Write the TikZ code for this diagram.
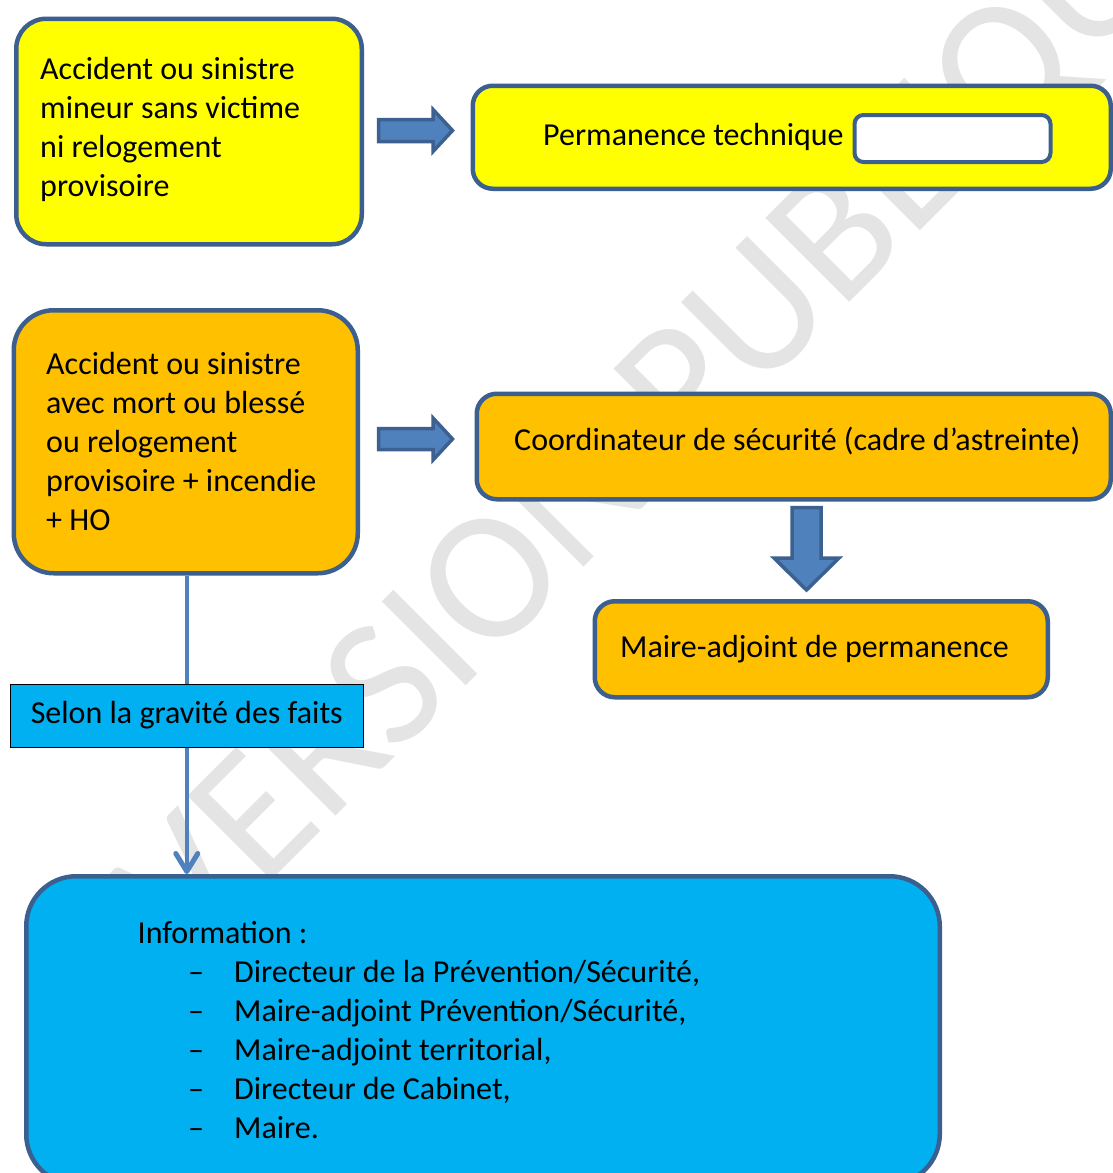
\documentclass[tikz,border=0pt]{standalone}
\usepackage{fontspec}
\setmainfont{Carlito}
\usetikzlibrary{arrows.meta}
\definecolor{bord}{HTML}{3B5F8F}
\definecolor{yel}{HTML}{FFFF00}
\definecolor{orng}{HTML}{FFC000}
\definecolor{cyanb}{HTML}{00B0F0}
\definecolor{arrfill}{HTML}{4F81BD}
\definecolor{arrline}{HTML}{3C6190}
\definecolor{wm}{HTML}{E4E4E4}
\begin{document}
\begin{tikzpicture}[x=1pt,y=-1pt,
  box/.style={draw=bord, line width=4.5pt, rounded corners=#1, anchor=north west, inner sep=0pt},
  box/.default=30pt,
  txt/.style={anchor=north west, inner sep=0pt, align=left, font=\fontsize{32}{39}\selectfont},
  blockarrow/.style={fill=arrfill, draw=arrline, line width=3.5pt, line join=miter},
  flow/.style={draw=arrfill, line width=3.5pt}
]
\useasboundingbox (0,0) rectangle (1112,1173);
\fill[white] (0,0) rectangle (1112,1173);

% watermark
\node[rotate=45, text=wm, inner sep=0pt, font=\fontsize{185}{185}\selectfont] (wmark) at (678,406) {VERSION PUBLIQUE};

% yellow row
\node[box=30pt, fill=yel, minimum width=345.5pt, minimum height=225.5pt] (b1) at (14,16.5) {};
\node[txt] (t1) at (40,51.7) {\strut Accident ou sinistre\\mineur sans victime\\ni relogement\\provisoire};
\node[box=20pt, fill=yel, minimum width=638pt, minimum height=103pt] (b2) at (470.5,83.5) {};
\node[txt] (t2) at (543,117.7) {\strut Permanence technique};
\node[box=9pt, fill=white, line width=4pt, minimum width=196pt, minimum height=47pt] (w2) at (852.5,113) {};

\draw[blockarrow] (378.5,119.5) -- (433,119.5) -- (433,109.5) -- (452.5,130.5) -- (433,151.5) -- (433,141.5) -- (378.5,141.5) -- cycle;

% orange row
\node[box=40pt, fill=orng, minimum width=344pt, minimum height=263pt] (b3) at (11.5,308) {};
\node[txt] (t3) at (46,347.2) {\strut Accident ou sinistre\\avec mort ou blessé\\ou relogement\\provisoire + incendie\\+ HO};
\node[box=20pt, fill=orng, minimum width=634pt, minimum height=105.5pt] (b4) at (474.5,391.5) {};
\node[txt] (t4) at (514,422.9) {\strut Coordinateur de sécurité (cadre d’astreinte)};

\draw[blockarrow] (378.5,428.5) -- (433,428.5) -- (433,418) -- (452.5,439) -- (433,460) -- (433,449.5) -- (378.5,449.5) -- cycle;

\node[box=20pt, fill=orng, minimum width=453pt, minimum height=96pt] (b5) at (592.5,599) {};
\node[txt] (t5) at (620,630.4) {\strut Maire-adjoint de permanence};

\draw[blockarrow] (792,507.5) -- (821,507.5) -- (821,558) -- (839,558) -- (806.5,590) -- (774,558) -- (792,558) -- cycle;

% information path
\node[draw=black, line width=1pt, fill=cyanb, minimum width=353pt, minimum height=63pt, inner sep=0pt, anchor=north west, font=\fontsize{32}{39}\selectfont] (selon) at (9.8,683.5) {\strut Selon la gravité des faits};
\node[box=50pt, fill=cyanb, minimum width=913.5pt, minimum height=308pt] (b6) at (24,874) {};
\node[txt] (t6) at (137.5,915.7) {\strut Information :\\
\hspace*{50.5pt}\makebox[46pt][l]{–}Directeur de la Prévention/Sécurité,\\
\hspace*{50.5pt}\makebox[46pt][l]{–}Maire-adjoint Prévention/Sécurité,\\
\hspace*{50.5pt}\makebox[46pt][l]{–}Maire-adjoint territorial,\\
\hspace*{50.5pt}\makebox[46pt][l]{–}Directeur de Cabinet,\\
\hspace*{50.5pt}\makebox[46pt][l]{–}Maire.};

\draw[flow] (selon.center |- b3.south) -- (selon.north);
\draw[flow, -{Straight Barb[length=18pt,width=22pt,line width=5pt,round]}] (selon.south) -- (selon.center |- b6.north);
\end{tikzpicture}
\end{document}
